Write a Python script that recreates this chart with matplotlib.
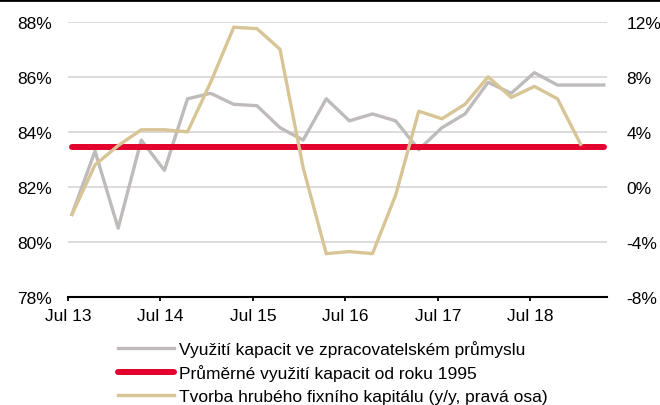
import matplotlib.pyplot as plt
import numpy as np

plt.rcParams['font.family'] = ['Liberation Sans', 'DejaVu Sans']

# quarterly data, first point Q3 2013
utilization = [81.0, 83.3, 80.5, 83.7, 82.6, 85.2, 85.4, 85.0, 84.95, 84.15,
               83.7, 85.2, 84.4, 84.65, 84.4, 83.35, 84.15, 84.65, 85.8, 85.4,
               86.15, 85.7, 85.7, 85.7]
avg_since_1995 = 83.45
gfcf = [-2.0, 1.6, 3.0, 4.15, 4.15, 4.0, 7.6, 11.6, 11.5, 10.0,
        1.4, -4.85, -4.7, -4.85, -0.6, 5.5, 4.95, 6.0, 8.0, 6.5,
        7.3, 6.4, 3.1]

tick_labels = ["Jul 13", "Jul 14", "Jul 15", "Jul 16", "Jul 17", "Jul 18"]
left_ticks = [78, 80, 82, 84, 86, 88]
right_ticks = [-8, -4, 0, 4, 8, 12]

labels = ["Využití kapacit ve zpracovatelském průmyslu",
          "Průměrné využití kapacit od roku 1995",
          "Tvorba hrubého fixního kapitálu (y/y, pravá osa)"]

c_gray = "#BFBBBB"
c_red = "#E4032E"
c_tan = "#D8C596"
fs = 12.5

fig = plt.figure(figsize=(6.6, 4.06), dpi=100)
ax1 = fig.add_axes([0.103, 0.266, 0.817, 0.678])

x1 = np.arange(len(utilization))
x2 = np.arange(len(gfcf))

for v in left_ticks[1:]:
    ax1.axhline(v, color="#D9D9D9", lw=1.3, zorder=0)

l1, = ax1.plot(x1, utilization, color=c_gray, lw=2.4, label=labels[0], zorder=2)
l2, = ax1.plot([x1[0], x1[-1]], [avg_since_1995] * 2, color=c_red, lw=4.3,
               solid_capstyle="round", label=labels[1], zorder=4)

ax1.set_ylim(78, 88)
ax1.set_yticks(left_ticks)
ax1.set_yticklabels([f"{v}%" for v in left_ticks])
ax1.set_xlim(-0.17, 23.15)
ax1.set_xticks(np.arange(0, 24, 4) - 0.17)
ax1.set_xticklabels(tick_labels)

ax2 = ax1.twinx()
l3, = ax2.plot(x2, gfcf, color=c_tan, lw=2.4, label=labels[2], zorder=3)
ax2.set_ylim(-8, 12)
ax2.set_yticks(right_ticks)
ax2.set_yticklabels([f"{v}%" for v in right_ticks], ha="left")

for ax in (ax1, ax2):
    for s in ("top", "left", "right", "bottom"):
        ax.spines[s].set_visible(False)
    ax.tick_params(axis="y", length=0, labelsize=fs)
ax1.spines["bottom"].set_visible(True)
ax1.spines["bottom"].set_linewidth(1.5)
ax1.tick_params(axis="x", length=3, width=1.3, labelsize=fs, pad=5)
ax1.tick_params(axis="y", pad=11.5)
ax2.tick_params(axis="y", pad=14)

ax2.set_zorder(ax1.get_zorder() + 1)
ax2.patch.set_visible(False)

fig.legend([l1, l2, l3], labels, loc="upper left", bbox_to_anchor=(0.179, 0.16),
           frameon=False, fontsize=fs, handlelength=3.2, handletextpad=0.3,
           labelspacing=0.42, borderaxespad=0, borderpad=0)

fig.add_artist(plt.Line2D([0, 1], [0.998, 0.998], color="black", lw=2,
                          transform=fig.transFigure))

plt.savefig("out.png", dpi=100)
